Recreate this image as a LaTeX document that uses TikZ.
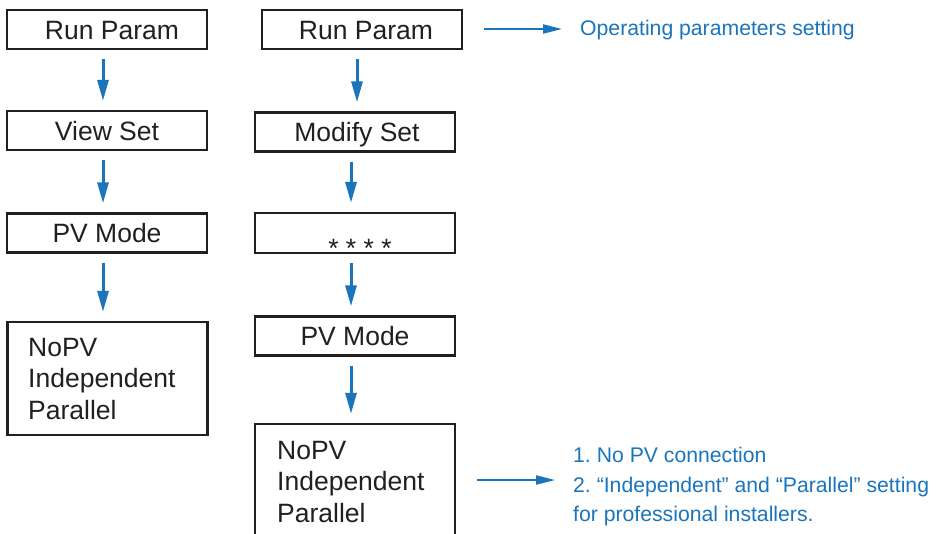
\documentclass[tikz,border=0pt]{standalone}
\usepackage{fontspec}
\setmainfont{Liberation Sans}
\frenchspacing
\usetikzlibrary{arrows.meta}
\definecolor{arrowblue}{RGB}{26,117,188}
\definecolor{boxline}{RGB}{35,31,32}
\tikzset{
  menubox/.style={draw=boxline, line width=2.4pt, inner sep=0pt, minimum width=200pt,
    minimum height=39pt, text height=19pt, text depth=0pt,
    font=\fontsize{26.5}{31.5}\selectfont, text=boxline},
  emptybox/.style={draw=boxline, line width=2.4pt, inner sep=0pt, minimum width=200pt},
  boxtext/.style={inner sep=0pt, align=left, font=\fontsize{26.5}{31.5}\selectfont, text=boxline},
  downarrow/.style={draw=arrowblue, line width=3pt, -{Triangle[length=21pt,width=11pt]},
    shorten <=9pt, shorten >=9pt},
  sidearrow/.style={draw=arrowblue, line width=2pt, -{Triangle[length=19pt,width=9pt]}},
  note/.style={inner sep=0pt, align=left, text=arrowblue, font=\fontsize{21.2}{29.5}\selectfont}
}
\begin{document}
\begin{tikzpicture}[x=1pt,y=-1pt]
\useasboundingbox (0,0) rectangle (941,533);
\clip (0,0) rectangle (941,533);
\fill[white] (0,0) rectangle (941,533);
% left column
\node[menubox] (l1) at (107,29.5) {\hspace{10pt}Run Param};
\node[menubox] (l2) at (107,130.5) {View Set};
\node[menubox] (l3) at (107,233) {PV Mode};
\node[emptybox, minimum height=113pt] (l4) at (107.5,378.5) {};
\node[boxtext, anchor=north west] (l4t) at (28,338) {NoPV\\Independent\\Parallel};
\draw[downarrow] ([xshift=-4pt]l1.south) -- ([xshift=-4pt]l2.north);
\draw[downarrow] ([xshift=-4pt]l2.south) -- ([xshift=-4pt]l3.north);
\draw[downarrow] ([xshift=-4pt]l3.south) -- ([xshift=-4.5pt]l4.north);
% right column
\node[menubox] (r1) at (362,29.5) {\hspace{8pt}Run Param};
\node[menubox] (r2) at (355,132) {\hspace{4pt}Modify Set};
\node[emptybox, minimum height=40pt] (r3) at (355,233) {};
\node[inner sep=0pt, anchor=base, font=\fontsize{26.5}{31.5}\selectfont, text=boxline] (r3t) at (360,257) {* * * *};
\node[menubox] (r4) at (355,336) {PV Mode};
\node[emptybox, minimum height=130pt] (r5) at (355,489) {};
\node[boxtext, anchor=north west] (r5t) at (277,441) {NoPV\\Independent\\Parallel};
\draw[downarrow] ([xshift=-5pt]r1.south) -- ([xshift=2pt]r2.north);
\draw[downarrow] ([xshift=-4pt]r2.south) -- ([xshift=-4pt]r3.north);
\draw[downarrow] ([xshift=-4pt]r3.south) -- ([xshift=-4pt]r4.north);
\draw[downarrow] ([xshift=-4pt]r4.south) -- ([xshift=-4pt]r5.north);
% notes
\coordinate (a1s) at (484,29);
\coordinate (a1e) at (562,29);
\node[note, anchor=base west] (n1) at (580,35) {Operating parameters setting};
\draw[sidearrow] (a1s) -- (a1e);
\coordinate (a2s) at (477,480);
\coordinate (a2e) at (555,480);
\node[note, anchor=north west] (n2) at (573,447) {1. No PV connection\\2. “Independent” and “Parallel” setting\\for professional installers.};
\draw[sidearrow] (a2s) -- (a2e);
\end{tikzpicture}
\end{document}
